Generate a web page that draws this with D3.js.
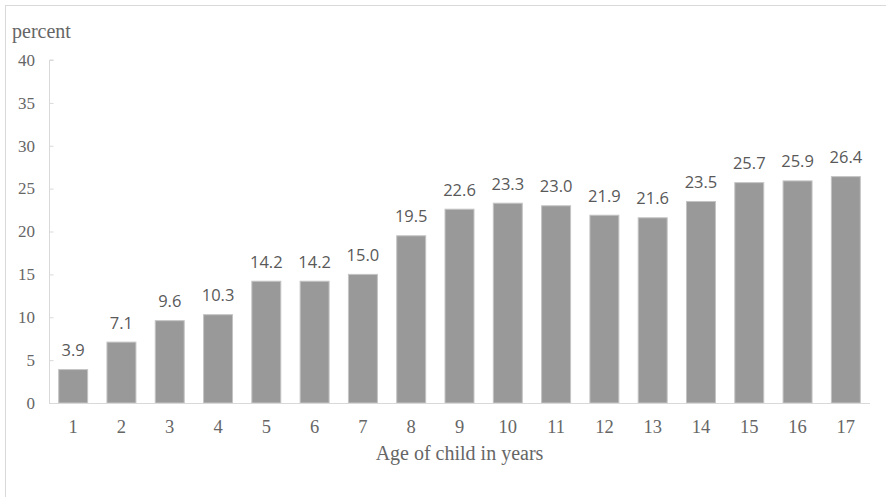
<!DOCTYPE html>
<html>
<head>
<meta charset="utf-8">
<script src="https://cdn.jsdelivr.net/npm/d3@7"></script>
<style>
  html, body { margin: 0; padding: 0; background: #fff; }
  svg { display: block; }
</style>
</head>
<body>
<svg id="chart" width="886" height="497"></svg>
<script>
const categories = ["1","2","3","4","5","6","7","8","9","10","11","12","13","14","15","16","17"];
const values = [3.9, 7.1, 9.6, 10.3, 14.2, 14.2, 15.0, 19.5, 22.6, 23.3, 23.0, 21.9, 21.6, 23.5, 25.7, 25.9, 26.4];
const yTicks = [0, 5, 10, 15, 20, 25, 30, 35, 40];
const yTitle = "percent";
const xTitle = "Age of child in years";

(function () {
const svg = d3.select("#chart");
const W = 886, H = 497;
const axisColor = "#d9d9d9";
const textColor = "#595959";
const serifColor = "#666666";

// outer border
svg.append("rect")
  .attr("x", 5.5).attr("y", 5.5)
  .attr("width", W + 10).attr("height", H + 10)
  .attr("fill", "none").attr("stroke", axisColor).attr("stroke-width", 1);

const pLeft = 49, pRight = 870, pTop = 60, pBottom = 403;

const x = d3.scaleBand().domain(categories).range([pLeft, pRight]).paddingInner(0.4).paddingOuter(0.2);
const y = d3.scaleLinear().domain([0, 40]).range([pBottom, pTop]);

// y axis
const yAxis = d3.axisRight(y).tickValues(yTicks).tickSize(4).tickFormat("");
const gy = svg.append("g").attr("transform", `translate(${pLeft + 0.5},0)`).call(yAxis);
gy.select(".domain").attr("stroke", axisColor).attr("d", `M4,${pTop}H0V${pBottom}`);
gy.selectAll(".tick line").attr("stroke", axisColor);

svg.append("g").selectAll("text").data(yTicks).join("text")
  .attr("x", 35).attr("y", d => y(d)).attr("dy", "0.34em")
  .attr("text-anchor", "end")
  .attr("font-family", "'Liberation Serif', 'Times New Roman', serif")
  .attr("font-size", 17).attr("fill", serifColor)
  .text(d => d);

// bars
svg.append("g").selectAll("rect").data(values).join("rect")
  .attr("x", (d, i) => x(categories[i]))
  .attr("y", d => y(d))
  .attr("width", x.bandwidth())
  .attr("height", d => y(0) - y(d))
  .attr("fill", "#999999")
  .attr("stroke", "#c4c4c4").attr("stroke-width", 1);

// x axis
const xAxis = d3.axisBottom(x).tickSize(0).tickFormat("");
const gx = svg.append("g").attr("transform", `translate(0,${pBottom + 0.5})`).call(xAxis);
gx.select(".domain").attr("stroke", axisColor).attr("d", `M${pLeft},0H${pRight}`);

svg.append("g").selectAll("text").data(categories).join("text")
  .attr("x", d => x(d) + x.bandwidth() / 2).attr("y", 433)
  .attr("text-anchor", "middle")
  .attr("font-family", "'Liberation Serif', 'Times New Roman', serif")
  .attr("font-size", 18.5).attr("fill", serifColor)
  .text(d => d);

// value labels
svg.append("g").selectAll("text").data(values).join("text")
  .attr("x", (d, i) => x(categories[i]) + x.bandwidth() / 2)
  .attr("y", d => y(d) - 13.5)
  .attr("text-anchor", "middle")
  .attr("font-family", "'Open Sans', sans-serif")
  .attr("font-size", 16.5).attr("fill", textColor)
  .text(d => d.toFixed(1));

// titles
svg.append("text")
  .attr("x", 12).attr("y", 38)
  .attr("font-family", "'Liberation Serif', 'Times New Roman', serif")
  .attr("font-size", 20).attr("fill", serifColor)
  .text(yTitle);

svg.append("text")
  .attr("x", (pLeft + pRight) / 2).attr("y", 460)
  .attr("text-anchor", "middle")
  .attr("font-family", "'Liberation Serif', 'Times New Roman', serif")
  .attr("font-size", 20).attr("fill", serifColor)
  .text(xTitle);
})();
</script>
</body>
</html>
